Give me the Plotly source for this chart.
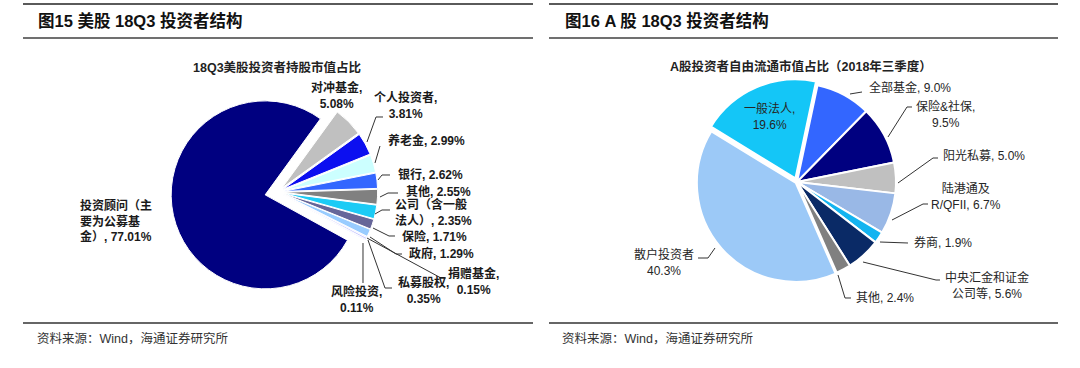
import plotly.graph_objects as go

W, H = 1080, 368

# ---------------- data ----------------
us_categories = ["对冲基金", "个人投资者", "养老金", "银行", "其他", "公司（含一般法人）",
                 "保险", "政府", "捐赠基金", "私募股权", "风险投资", "投资顾问（主要为公募基金）"]
us_values = [5.08, 3.81, 2.99, 2.62, 2.55, 2.35, 1.71, 1.29, 0.15, 0.35, 0.11, 77.01]

cn_categories = ["全部基金", "保险&社保", "阳光私募", "陆港通及R/QFII", "券商",
                 "中央汇金和证金公司等", "其他", "散户投资者", "一般法人"]
cn_values = [9.0, 9.5, 5.0, 6.7, 1.9, 5.6, 2.4, 40.3, 19.6]

titles = ["图15 美股 18Q3 投资者结构", "图16 A 股 18Q3 投资者结构"]
subtitles = ["18Q3美股投资者持股市值占比", "A股投资者自由流通市值占比（2018年三季度）"]
source_text = "资料来源：Wind，海通证券研究所"

# ---------------- styles / layout ----------------
us_colors = ["#c0c0c0", "#0c0ff0", "#ccffff", "#3366ff", "#808080", "#1ccbf5",
             "#666699", "#99ccff", "#9999ff", "#ccccff", "#6666ff", "#000080"]
us_pull = [0.06] * 11 + [0.14]
cn_colors = ["#3366ff", "#000080", "#c0c0c0", "#99b8e6", "#14b4f0",
             "#0a2a66", "#808080", "#9cc9f7", "#14c6f7"]
cn_pull = [0, 0, 0, 0, 0, 0, 0, 0.015, 0.04]

FONT = "Liberation Sans, Noto Sans CJK SC, sans-serif"


def px(x):
    return x / W


def py(y):
    return 1 - y / H


def domain(cx, cy, r, maxpull):
    h = r * (1 + maxpull)
    return dict(x=[px(cx - h), px(cx + h)], y=[py(cy + h), py(cy - h)])


fig = go.Figure()
fig.add_trace(go.Pie(
    labels=us_categories, values=us_values, sort=False, direction="clockwise",
    rotation=36, pull=us_pull, textinfo="none", hoverinfo="label+percent",
    marker=dict(colors=us_colors, line=dict(color="white", width=1)),
    domain=domain(278, 192, 94, 0.14), showlegend=False))
fig.add_trace(go.Pie(
    labels=cn_categories, values=cn_values, sort=False, direction="clockwise",
    rotation=12, pull=cn_pull, textinfo="none", hoverinfo="label+percent",
    marker=dict(colors=cn_colors, line=dict(color="white", width=2)),
    domain=domain(797, 182, 99, 0.04), showlegend=False))

annotations = []
shapes = []


def text(x, y, s, size=12, bold=False, xanchor="center", align="center", color="#1a1a1a"):
    if bold:
        s = "<b>" + s.replace("<br>", "</b><br><b>") + "</b>"
    annotations.append(dict(x=px(x), y=py(y), xref="paper", yref="paper", text=s,
                            showarrow=False, xanchor=xanchor, yanchor="middle", align=align,
                            font=dict(family=FONT, size=size, color=color)))


def poly(points, color="#333333", width=1):
    d = "M " + " L ".join(f"{px(x):.5f},{py(y):.5f}" for x, y in points)
    shapes.append(dict(type="path", path=d, xref="paper", yref="paper",
                       line=dict(color=color, width=width)))


def hline(x0, x1, y, color, width):
    shapes.append(dict(type="line", xref="paper", yref="paper", x0=px(x0), x1=px(x1),
                       y0=py(y), y1=py(y), line=dict(color=color, width=width)))


def build(name, vstr, breaks, joiner):
    parts, prev = [], 0
    for b in breaks:
        parts.append(name[prev:b])
        prev = b
    parts.append(name[prev:])
    return "<br>".join(parts) + joiner + vstr


# panel rules
for (x0, x1) in [(23, 533), (549, 1058)]:
    hline(x0, x1, 4, "#5a5a5a", 2)
    hline(x0, x1, 38, "#707070", 2)
    hline(x0, x1, 323, "#333333", 1.5)

text(36, 21, titles[0], size=16.5, bold=True, xanchor="left", color="#111111")
text(563, 21, titles[1], size=16.5, bold=True, xanchor="left", color="#111111")
text(35, 338, source_text, size=12.5, xanchor="left", color="#333333")
text(560, 338, source_text, size=12.5, xanchor="left", color="#333333")
text(277, 68, subtitles[0], size=12.5, bold=True, color="#222222")
text(801, 66, subtitles[1], size=12.5, bold=True, color="#222222")

# left labels: (cx, cy, breaks, joiner, anchor)
us_label_layout = [
    (336, 95, [], ",<br>", "center"),
    (405, 105.5, [], ",<br>", "center"),
    (426, 140, [], ", ", "center"),
    (430, 174, [], ", ", "center"),
    (438, 191, [], ", ", "center"),
    (393, 212, [6], ", ", "left"),
    (434, 236, [], ", ", "center"),
    (441, 253, [], ", ", "center"),
    (473, 281, [], ",<br>", "center"),
    (423, 290, [], ",<br>", "center"),
    (356, 299, [], ",<br>", "center"),
    (78, 221, [6, 11], ", ", "left"),
]
for name, v, (cx, cy, br, j, anc) in zip(us_categories, us_values, us_label_layout):
    text(cx, cy, build(name, f"{v:.2f}%", br, j), size=12, bold=True,
         xanchor=anc, align=anc, color="#1a1a1a")

us_leaders = [
    None,
    [(383, 117), (376, 117), (367, 142)],
    [(380, 146), (375, 163)],
    [(390, 175), (382, 175), (378, 180)],
    [(398, 193), (388, 193), (380, 197)],
    [(390, 210), (382, 210), (375, 214)],
    [(395, 236), (389, 236), (373, 228)],
    [(402, 254), (396, 254), (370, 237)],
    [(446, 278), (441, 278), (367, 238)],
    [(392, 288), (385, 288), (368, 240)],
    [(363, 243), (363, 283)],
    None,
]
for pts in us_leaders:
    if pts:
        poly(pts)

cn_label_layout = [
    (910, 87, [], ", ", "center"),
    (945, 114.5, [], ",<br>", "center"),
    (984, 156, [], ", ", "center"),
    (966, 196, [4], ", ", "center"),
    (943, 242, [], ", ", "center"),
    (987, 285.5, [7], ", ", "center"),
    (885, 298, [], ", ", "center"),
    (664, 262, [], "<br>", "center"),
    (770, 116.5, [], ",<br>", "center"),
]
for name, v, (cx, cy, br, j, anc) in zip(cn_categories, cn_values, cn_label_layout):
    text(cx, cy, build(name, f"{v:.1f}%", br, j), size=12,
         xanchor=anc, align=anc, color="#262626")

cn_leaders = [
    [(862, 92), (850, 94)],
    [(912, 107), (907, 107), (888, 137)],
    [(938, 158), (933, 158), (898, 183)],
    [(928, 204), (923, 204), (892, 220)],
    [(908, 243), (880, 242)],
    [(940, 280), (936, 280), (863, 262)],
    [(851, 298), (845, 298), (838, 275)],
    [(698, 258), (708, 258), (715, 248)],
    None,
]
for pts in cn_leaders:
    if pts:
        poly(pts)

fig.update_layout(width=W, height=H, margin=dict(l=0, r=0, t=0, b=0),
                  paper_bgcolor="white", plot_bgcolor="white",
                  annotations=annotations, shapes=shapes, showlegend=False)

fig.write_html(
    "out.html",
    config={"displayModeBar": False},
    post_script="document.body.style.margin='0';document.body.style.padding='0';"
                "document.body.style.overflow='hidden';",
)
